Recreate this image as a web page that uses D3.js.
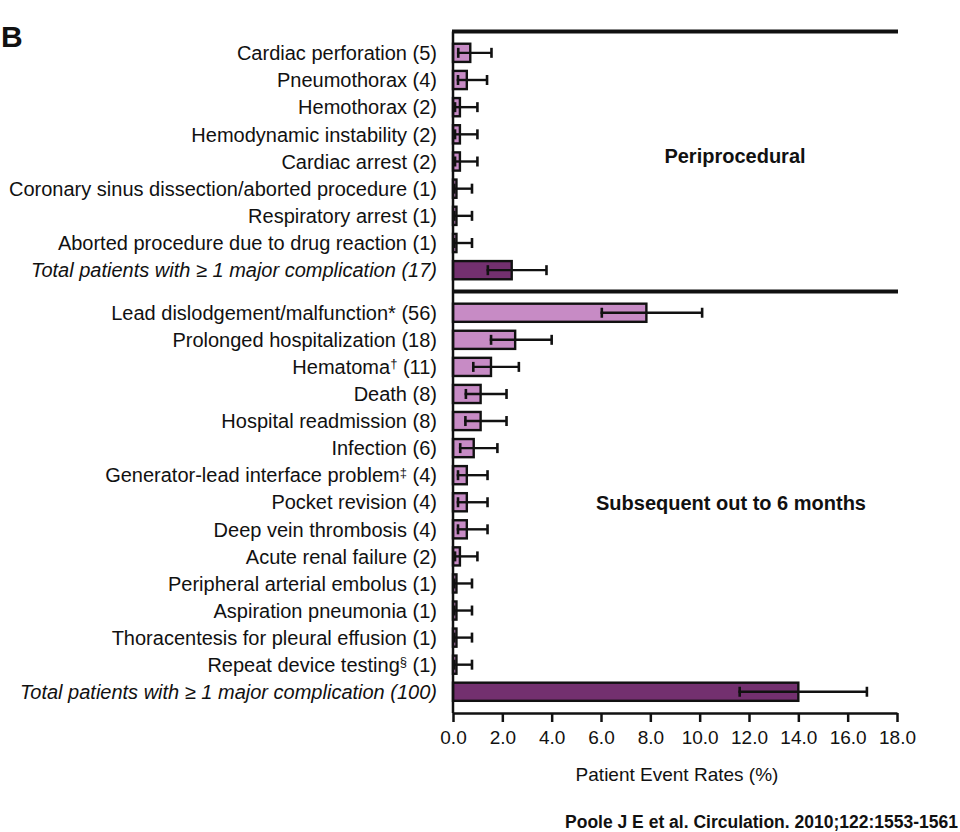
<!DOCTYPE html>
<html>
<head>
<meta charset="utf-8">
<script src="https://cdn.jsdelivr.net/npm/d3@7"></script>
<style>
  html, body { margin: 0; padding: 0; background: #fff; }
  svg { display: block; font-family: "Liberation Sans", Arial, sans-serif; }
</style>
</head>
<body>
<svg id="chart" width="960" height="832"></svg>
<script>
// ---- Data ----
const periLabels = [
  "Cardiac perforation (5)",
  "Pneumothorax (4)",
  "Hemothorax (2)",
  "Hemodynamic instability (2)",
  "Cardiac arrest (2)",
  "Coronary sinus dissection/aborted procedure (1)",
  "Respiratory arrest (1)",
  "Aborted procedure due to drug reaction (1)",
  "Total patients with \u2265 1 major complication (17)"
];
const periValues = [0.70, 0.56, 0.28, 0.28, 0.28, 0.14, 0.14, 0.14, 2.38];
const periLower  = [0.16, 0.15, 0.03, 0.03, 0.03, 0.00, 0.00, 0.00, 1.36];
const periUpper  = [1.56, 1.38, 0.99, 0.99, 0.99, 0.77, 0.77, 0.77, 3.79];

const subLabels = [
  "Lead dislodgement/malfunction* (56)",
  "Prolonged hospitalization (18)",
  "Hematoma\u2020 (11)",
  "Death (8)",
  "Hospital readmission (8)",
  "Infection (6)",
  "Generator-lead interface problem\u2021 (4)",
  "Pocket revision (4)",
  "Deep vein thrombosis (4)",
  "Acute renal failure (2)",
  "Peripheral arterial embolus (1)",
  "Aspiration pneumonia (1)",
  "Thoracentesis for pleural effusion (1)",
  "Repeat device testing\u00a7 (1)",
  "Total patients with \u2265 1 major complication (100)"
];
const subValues = [7.84, 2.52, 1.54, 1.12, 1.12, 0.84, 0.56, 0.56, 0.56, 0.28, 0.14, 0.14, 0.14, 0.14, 14.0];
const subLower  = [5.98, 1.49, 0.77, 0.47, 0.45, 0.24, 0.15, 0.15, 0.15, 0.03, 0.00, 0.00, 0.00, 0.00, 11.57];
const subUpper  = [10.1, 4.00, 2.67, 2.17, 2.17, 1.80, 1.40, 1.40, 1.40, 0.99, 0.77, 0.77, 0.77, 0.77, 16.78];

const xTicks = [0, 2, 4, 6, 8, 10, 12, 14, 16, 18];
const sectionTitles = ["Periprocedural", "Subsequent out to 6 months"];
const panelLetter = "B";
const xTitle = "Patient Event Rates (%)";
const citation = "Poole J E et al. Circulation. 2010;122:1553-1561";

// ---- Layout ----
const svg = d3.select("#chart");
const x0 = 453, x1 = 897;
const topY = 31.5, sepY = 291.5, axisY = 713;
const lightFill = "#c78bc5", darkFill = "#73306f";

const x = d3.scaleLinear().domain([0, 18]).range([x0, x1]);

function makeRows(labels, values, lower, upper) {
  return labels.map((l, i) => ({
    label: l, value: values[i], lo: lower[i], hi: upper[i],
    total: i === labels.length - 1
  }));
}
const sections = [
  { rows: makeRows(periLabels, periValues, periLower, periUpper), range: [topY, sepY], title: sectionTitles[0] },
  { rows: makeRows(subLabels, subValues, subLower, subUpper), range: [sepY, axisY], title: sectionTitles[1] }
];

sections.forEach(sec => {
  sec.y = d3.scaleBand().domain(sec.rows.map(r => r.label))
    .range(sec.range).paddingInner(0.33).paddingOuter(0.45);
});

// Bars, error bars, labels
sections.forEach((sec, si) => {
  const y = sec.y;
  const g = svg.append("g");
  const bw = y.bandwidth();

  g.selectAll("rect.bar").data(sec.rows).enter().append("rect")
    .attr("class", "bar")
    .attr("x", x(0))
    .attr("y", d => y(d.label))
    .attr("width", d => x(d.value) - x(0))
    .attr("height", bw)
    .attr("fill", d => d.total ? darkFill : lightFill)
    .attr("stroke", "#111")
    .attr("stroke-width", 2.4);

  // whiskers
  const cap = 9;
  g.selectAll("line.whisk").data(sec.rows).enter().append("line")
    .attr("x1", d => x(d.lo)).attr("x2", d => x(d.hi))
    .attr("y1", d => y(d.label) + bw / 2).attr("y2", d => y(d.label) + bw / 2)
    .attr("stroke", "#111").attr("stroke-width", 2.4);
  g.selectAll("line.capHi").data(sec.rows).enter().append("line")
    .attr("x1", d => x(d.hi)).attr("x2", d => x(d.hi))
    .attr("y1", d => y(d.label) + bw / 2 - cap / 2 - 0.5)
    .attr("y2", d => y(d.label) + bw / 2 + cap / 2 + 0.5)
    .attr("stroke", "#111").attr("stroke-width", 2.6);
  g.selectAll("line.capLo").data(sec.rows).enter().append("line")
    .attr("x1", d => x(d.lo) + 1.3).attr("x2", d => x(d.lo) + 1.3)
    .attr("y1", d => y(d.label) + bw / 2 - cap / 2 - 0.5)
    .attr("y2", d => y(d.label) + bw / 2 + cap / 2 + 0.5)
    .attr("stroke", "#111").attr("stroke-width", 2.6);

  // category labels
  const lab = g.selectAll("text.lab").data(sec.rows).enter().append("text")
    .attr("x", 437)
    .attr("y", d => y(d.label) + bw / 2)
    .attr("dy", "0.36em")
    .attr("text-anchor", "end")
    .attr("font-size", 20)
    .attr("font-style", d => d.total ? "italic" : "normal")
    .attr("fill", "#111");
  lab.each(function(d) {
    const t = d3.select(this);
    const m = d.label.match(/^(.*?)([\u2020\u2021\u00a7])(.*)$/);
    if (m) {
      t.append("tspan").text(m[1]);
      t.append("tspan").attr("font-size", 13).attr("dy", "-0.45em").text(m[2]);
      t.append("tspan").attr("dy", "0.29em").text(m[3]);
    } else {
      t.text(d.label);
    }
  });

  // section title
  const anchorRow = si === 0 ? sec.rows[4] : sec.rows[7];
  svg.append("text")
    .attr("x", si === 0 ? 735 : 731)
    .attr("y", y(anchorRow.label) + bw / 2 + (si === 0 ? -6 : 1))
    .attr("dy", "0.36em")
    .attr("text-anchor", "middle")
    .attr("font-size", 20)
    .attr("font-weight", "bold")
    .attr("fill", "#111")
    .text(sec.title);
});

// Horizontal separator lines
[topY, sepY].forEach(yy => {
  svg.append("line").attr("x1", x0 - 1).attr("x2", x1 + 1)
    .attr("y1", yy).attr("y2", yy)
    .attr("stroke", "#111").attr("stroke-width", 4);
});

// Left axis line
svg.append("line").attr("x1", x0).attr("x2", x0)
  .attr("y1", topY).attr("y2", axisY)
  .attr("stroke", "#111").attr("stroke-width", 2.5);

// X axis
const xAxis = d3.axisBottom(x).tickValues(xTicks)
  .tickFormat(d3.format(".1f")).tickSize(9).tickPadding(9).tickSizeOuter(0);
const ax = svg.append("g").attr("transform", `translate(0,${axisY})`).call(xAxis);
ax.select(".domain").attr("stroke", "#111").attr("stroke-width", 2.5);
ax.selectAll(".tick line").attr("stroke", "#111").attr("stroke-width", 2.5);
ax.selectAll(".tick text").attr("font-size", 19).attr("fill", "#111")
  .attr("font-family", "'Liberation Sans', Arial, sans-serif");

svg.append("text").attr("x", (x0 + x1) / 2 + 2).attr("y", 781)
  .attr("text-anchor", "middle").attr("font-size", 19).attr("fill", "#111")
  .text(xTitle);

svg.append("text").attr("x", 1).attr("y", 47)
  .attr("font-size", 30).attr("font-weight", "bold").attr("fill", "#111")
  .text(panelLetter);

svg.append("text").attr("x", 958).attr("y", 828)
  .attr("text-anchor", "end").attr("font-size", 17.5).attr("font-weight", "bold").attr("fill", "#111")
  .text(citation);
</script>
</body>
</html>
